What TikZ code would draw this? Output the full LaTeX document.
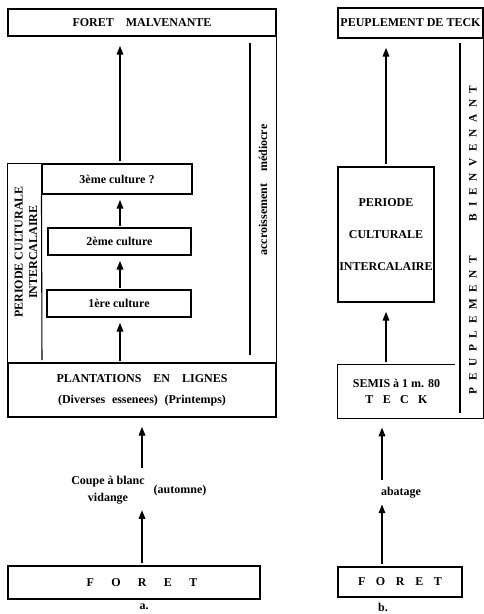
\documentclass[tikz,border=0pt]{standalone}
\usepackage{fontspec}
\setmainfont{Liberation Serif}
\usetikzlibrary{arrows.meta}

\tikzset{
  boite/.style={draw, line width=0.8pt, inner sep=0pt},
  cadre/.style={line width=0.8pt},
  fleche/.style={line width=0.8pt, -{Triangle[width=5pt,length=6.5pt]}, shorten >=7pt, shorten <=2pt},
  courte/.style={shorten >=4pt, shorten <=1pt},
}
\newcommand{\txt}{\fontsize{9}{11}\selectfont\bfseries}
\newcommand{\ecart}[2]{{\spaceskip=#1\relax #2}}

\begin{document}
\begin{tikzpicture}[x=0.75pt,y=0.75pt,yscale=-1,xscale=1, every node/.style={font=\txt}]
\useasboundingbox (0,0) rectangle (484,614);

%%%%% a. %%%%%
% Boxes
\node [boite, minimum width=268*0.75pt, minimum height=27*0.75pt] (malv) at (142,22.5) {FORET\quad MALVENANTE};
\node [boite, minimum width=150*0.75pt, minimum height=30*0.75pt] (cult3) at (117,179) {3ème culture ?};
\node [boite, minimum width=143*0.75pt, minimum height=27*0.75pt] (cult2) at (119.5,241.5) {2ème culture};
\node [boite, minimum width=144*0.75pt, minimum height=27*0.75pt] (cult1) at (119,303.5) {1ère culture};
\node [boite, minimum width=268*0.75pt, minimum height=54*0.75pt, align=center] (plant) at (142,390) {PLANTATIONS\quad EN\quad LIGNES\\[5pt]\ecart{5pt}{(Diverses essenees) (Printemps)}};
\node [boite, minimum width=252*0.75pt, minimum height=33*0.75pt] (foreta) at (134,582.5) {\hspace{12pt}\ecart{13pt}{F O R E T}};

%Straight Lines : frame
\draw [cadre] (malv.south east) -- (plant.north east) ;
\draw [cadre] (plant.north west) -- (plant.north west |- cult3.north) -- (cult3.north west) ;
\draw [cadre] (cult3.south west) -- (42,360) ;
\draw [cadre] (250,43) -- (250,355) ;

% Text Node
\node [rotate=90, align=center] (periodea) at (26,252) {PERIODE CULTURALE\\INTERCALAIRE};
\node [rotate=90] (accr) at (263,190) {accroissement\quad médiocre};
\node [align=center] (coupe) at (108,490) {Coupe à blanc\\[2pt]vidange};
\node (automne) at (180,491) {(automne)};
\node (a) at (144,607) {a.};
\coordinate (axea) at (142,490);
\coordinate (axec) at (120,240);

%Arrows
\draw [fleche, shorten >=1pt] (foreta.north -| axea) -- (coupe.south -| axea) ;
\draw [fleche] (coupe.north -| axea) -- (plant.south -| axea) ;
\draw [fleche, courte] (plant.north -| axec) -- (cult1.south -| axec) ;
\draw [fleche, courte] (cult1.north -| axec) -- (cult2.south -| axec) ;
\draw [fleche, courte] (cult2.north -| axec) -- (cult3.south -| axec) ;
\draw [fleche] (cult3.north -| axec) -- (malv.south -| axec) ;

%%%%% b. %%%%%
% Boxes
\node [boite, minimum width=145*0.75pt, minimum height=30*0.75pt] (peup) at (410.5,23) {PEUPLEMENT DE TECK};
\node [boite, minimum width=96*0.75pt, minimum height=135*0.75pt, align=center] (periodeb) at (386,234.5) {PERIODE\\[13pt]CULTURALE\\[13pt]INTERCALAIRE};
\node [minimum width=117*0.75pt, minimum height=53*0.75pt, inner sep=0pt, align=center] (semis) at (396.5,391.5) {SEMIS à 1 m. 80\\[1pt]\ecart{7pt}{T E C K}};
\node [boite, minimum width=124*0.75pt, minimum height=30*0.75pt] (foretb) at (400,582) {\ecart{8pt}{F O R E T}};

%Straight Lines : frame
\draw [cadre] (peup.south east) -- (peup.south east |- semis.south) -- (semis.south west) -- (semis.north west) -- (semis.north east) ;
\draw [cadre] (460,43) -- (460,413) ;

% Text Node
\node [rotate=90, font=\fontsize{8.5}{10}\selectfont\bfseries] (bienv) at (473,240) {\ecart{5pt}{P E U P L E M E N T\hspace{26pt}B I E N V E N A N T}};
\node (abat) at (401,493) {abatage};
\node (b) at (383,607) {b.};
\coordinate (axeb) at (382,493);

%Arrows
\draw [fleche, shorten >=1pt] (foretb.north -| axeb) -- (abat.south -| axeb) ;
\draw [fleche] (abat.north -| axeb) -- (semis.south -| axeb) ;
\draw [fleche] (semis.north -| periodeb.south) -- (periodeb.south) ;
\draw [fleche] (periodeb.north) -- (peup.south -| periodeb.north) ;

\end{tikzpicture}
\end{document}
